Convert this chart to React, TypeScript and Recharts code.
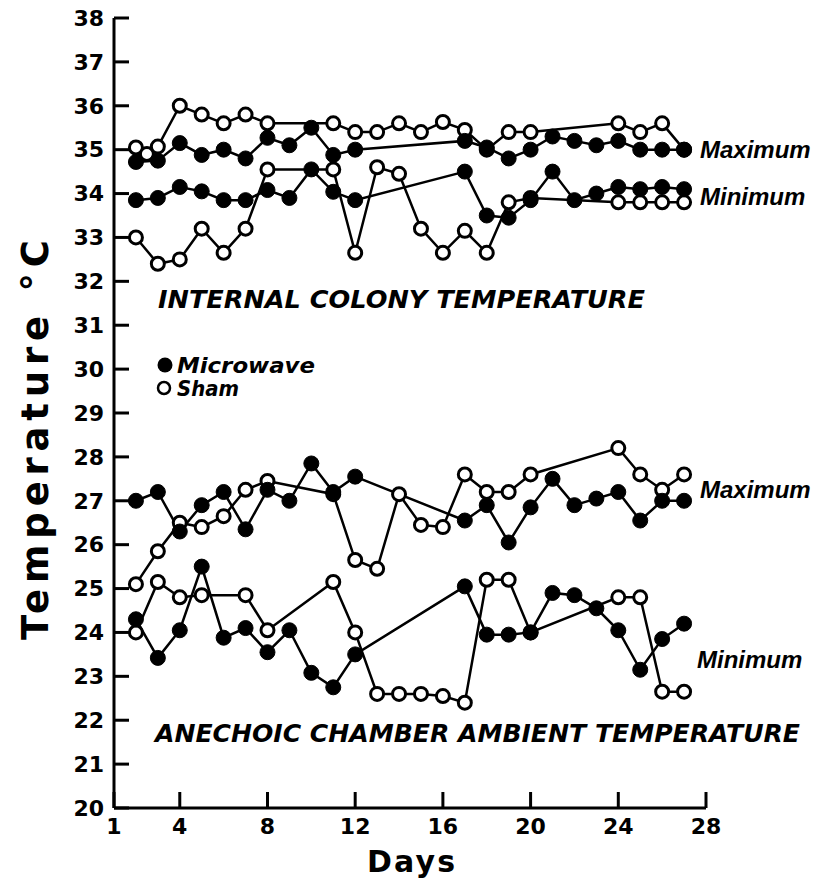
import React from 'react';
import { LineChart, Line, XAxis, YAxis } from 'recharts';

// Days on the x axis, temperatures (°C)
const colonyMaxMicrowaveDays = [2, 3, 4, 5, 6, 7, 8, 9, 10, 11, 12, 17, 18, 19, 20, 21, 22, 23, 24, 25, 26, 27];
const colonyMaxMicrowaveTemps = [34.72, 34.75, 35.15, 34.88, 35.0, 34.8, 35.27, 35.1, 35.5, 34.88, 35.0, 35.2, 35.05, 34.8, 35.0, 35.3, 35.2, 35.1, 35.2, 35.0, 35.0, 35.0];

const colonyMaxShamDays = [2, 2.5, 3, 4, 5, 6, 7, 8, 11, 12, 13, 14, 15, 16, 17, 18, 19, 20, 24, 25, 26, 27];
const colonyMaxShamTemps = [35.05, 34.9, 35.07, 36.0, 35.8, 35.6, 35.8, 35.6, 35.6, 35.4, 35.4, 35.6, 35.4, 35.63, 35.45, 35.0, 35.4, 35.4, 35.6, 35.4, 35.6, 35.0];

const colonyMinMicrowaveDays = [2, 3, 4, 5, 6, 7, 8, 9, 10, 11, 12, 17, 18, 19, 20, 21, 22, 23, 24, 25, 26, 27];
const colonyMinMicrowaveTemps = [33.85, 33.9, 34.15, 34.05, 33.85, 33.85, 34.08, 33.9, 34.55, 34.04, 33.85, 34.5, 33.5, 33.45, 33.85, 34.5, 33.85, 34.0, 34.15, 34.1, 34.15, 34.1];

const colonyMinShamDays = [2, 3, 4, 5, 6, 7, 8, 11, 12, 13, 14, 15, 16, 17, 18, 19, 20, 24, 25, 26, 27];
const colonyMinShamTemps = [33.0, 32.4, 32.5, 33.2, 32.65, 33.2, 34.55, 34.55, 32.65, 34.6, 34.45, 33.2, 32.65, 33.15, 32.65, 33.8, 33.9, 33.8, 33.8, 33.8, 33.8];

const ambientMaxMicrowaveDays = [2, 3, 4, 5, 6, 7, 8, 9, 10, 11, 12, 17, 18, 19, 20, 21, 22, 23, 24, 25, 26, 27];
const ambientMaxMicrowaveTemps = [27.0, 27.2, 26.3, 26.9, 27.2, 26.35, 27.25, 27.0, 27.85, 27.2, 27.55, 26.55, 26.9, 26.05, 26.85, 27.5, 26.9, 27.05, 27.2, 26.55, 27.0, 27.0];

const ambientMaxShamDays = [2, 3, 4, 5, 6, 7, 8, 11, 12, 13, 14, 15, 16, 17, 18, 19, 20, 24, 25, 26, 27];
const ambientMaxShamTemps = [25.1, 25.85, 26.5, 26.4, 26.65, 27.25, 27.45, 27.15, 25.65, 25.45, 27.15, 26.45, 26.4, 27.6, 27.2, 27.2, 27.6, 28.2, 27.6, 27.25, 27.6];

const ambientMinMicrowaveDays = [2, 3, 4, 5, 6, 7, 8, 9, 10, 11, 12, 17, 18, 19, 20, 21, 22, 23, 24, 25, 26, 27];
const ambientMinMicrowaveTemps = [24.3, 23.42, 24.05, 25.5, 23.88, 24.1, 23.55, 24.05, 23.08, 22.75, 23.5, 25.05, 23.95, 23.95, 24.0, 24.9, 24.85, 24.55, 24.05, 23.15, 23.85, 24.2];

const ambientMinShamDays = [2, 3, 4, 5, 7, 8, 11, 12, 13, 14, 15, 16, 17, 18, 19, 20, 24, 25, 26, 27];
const ambientMinShamTemps = [24.0, 25.15, 24.8, 24.85, 24.85, 24.05, 25.15, 24.0, 22.6, 22.6, 22.6, 22.55, 22.4, 25.2, 25.2, 24.0, 24.8, 24.8, 22.65, 22.65];

const dayTicks = [1, 4, 8, 12, 16, 20, 24, 28];
const tempTicks = [20, 21, 22, 23, 24, 25, 26, 27, 28, 29, 30, 31, 32, 33, 34, 35, 36, 37, 38];

const toPoints = (days: number[], temps: number[]) => days.map((day, i) => ({ day, temp: temps[i] }));

const shamSeries = [
  toPoints(colonyMaxShamDays, colonyMaxShamTemps),
  toPoints(colonyMinShamDays, colonyMinShamTemps),
  toPoints(ambientMaxShamDays, ambientMaxShamTemps),
  toPoints(ambientMinShamDays, ambientMinShamTemps),
];
const microwaveSeries = [
  toPoints(colonyMaxMicrowaveDays, colonyMaxMicrowaveTemps),
  toPoints(colonyMinMicrowaveDays, colonyMinMicrowaveTemps),
  toPoints(ambientMaxMicrowaveDays, ambientMaxMicrowaveTemps),
  toPoints(ambientMinMicrowaveDays, ambientMinMicrowaveTemps),
];

const FONT = '"DejaVu Sans", sans-serif';
const SIDE_FONT = '"Liberation Sans", Arial, sans-serif';
const tickStyle = { fontFamily: FONT, fontWeight: 700, fontSize: 22, fill: '#000' };

export default function App() {
  return (
    <div style={{ position: 'absolute', left: 0, top: 0, width: 824, height: 886, background: '#fff' }}>
      <LineChart width={824} height={886} margin={{ top: 18, right: 118, bottom: 48, left: 0 }}>
        <XAxis
          type="number"
          dataKey="day"
          domain={[1, 28]}
          ticks={dayTicks}
          height={30}
          allowDuplicatedCategory={false}
          axisLine={{ stroke: '#000', strokeWidth: 3 }}
          tickLine={{ stroke: '#000', strokeWidth: 3 }}
          tickSize={-16}
          tickMargin={26}
          tick={tickStyle}
        />
        <YAxis
          type="number"
          dataKey="temp"
          domain={[20, 38]}
          ticks={tempTicks}
          width={114}
          interval={0}
          axisLine={{ stroke: '#000', strokeWidth: 3 }}
          tickLine={{ stroke: '#000', strokeWidth: 3 }}
          tickSize={-15}
          tickMargin={25}
          tick={tickStyle}
        />
        {shamSeries.map((pts, i) => (
          <Line
            key={`sham-${i}`}
            data={pts}
            dataKey="temp"
            type="linear"
            stroke="#000"
            strokeWidth={2.5}
            dot={{ r: 6.5, fill: '#fff', stroke: '#000', strokeWidth: 3 }}
            isAnimationActive={false}
          />
        ))}
        {microwaveSeries.map((pts, i) => (
          <Line
            key={`mw-${i}`}
            data={pts}
            dataKey="temp"
            type="linear"
            stroke="#000"
            strokeWidth={2.5}
            dot={{ r: 7.5, fill: '#000', stroke: '#000', strokeWidth: 1 }}
            isAnimationActive={false}
          />
        ))}
      </LineChart>

      {/* annotations */}
      <svg width={824} height={886} style={{ position: 'absolute', left: 0, top: 0, pointerEvents: 'none' }}>
        <g fontFamily={FONT} fill="#000">
          <text x={35} y={440} transform="rotate(-90 35 440)" textAnchor="middle" dominantBaseline="central"
            fontSize={37} fontWeight={700} textLength={400} lengthAdjust="spacing">Temperature °C</text>
          <text x={411} y={872} textAnchor="middle" fontSize={30} fontWeight={700} textLength={88} lengthAdjust="spacing">Days</text>

          <text x={158} y={308} fontSize={25} fontWeight={700} fontStyle="italic" textLength={487} lengthAdjust="spacingAndGlyphs">INTERNAL COLONY TEMPERATURE</text>
          <text x={155} y={742} fontSize={25} fontWeight={700} fontStyle="italic" textLength={645} lengthAdjust="spacingAndGlyphs">ANECHOIC CHAMBER AMBIENT TEMPERATURE</text>

          <g fontFamily={SIDE_FONT} fontSize={24} fontWeight={700} fontStyle="italic">
            <text x={700} y={158}>Maximum</text>
            <text x={700} y={205}>Minimum</text>
            <text x={700} y={498}>Maximum</text>
            <text x={697} y={668}>Minimum</text>
          </g>

          <circle cx={165} cy={365} r={7.5} fill="#000" />
          <text x={177} y={373} fontSize={21} fontWeight={700} fontStyle="italic" textLength={138} lengthAdjust="spacingAndGlyphs">Microwave</text>
          <circle cx={164} cy={388} r={6} fill="#fff" stroke="#000" strokeWidth={2.5} />
          <text x={177} y={396} fontSize={21} fontWeight={700} fontStyle="italic" textLength={62} lengthAdjust="spacingAndGlyphs">Sham</text>
        </g>
      </svg>
    </div>
  );
}
